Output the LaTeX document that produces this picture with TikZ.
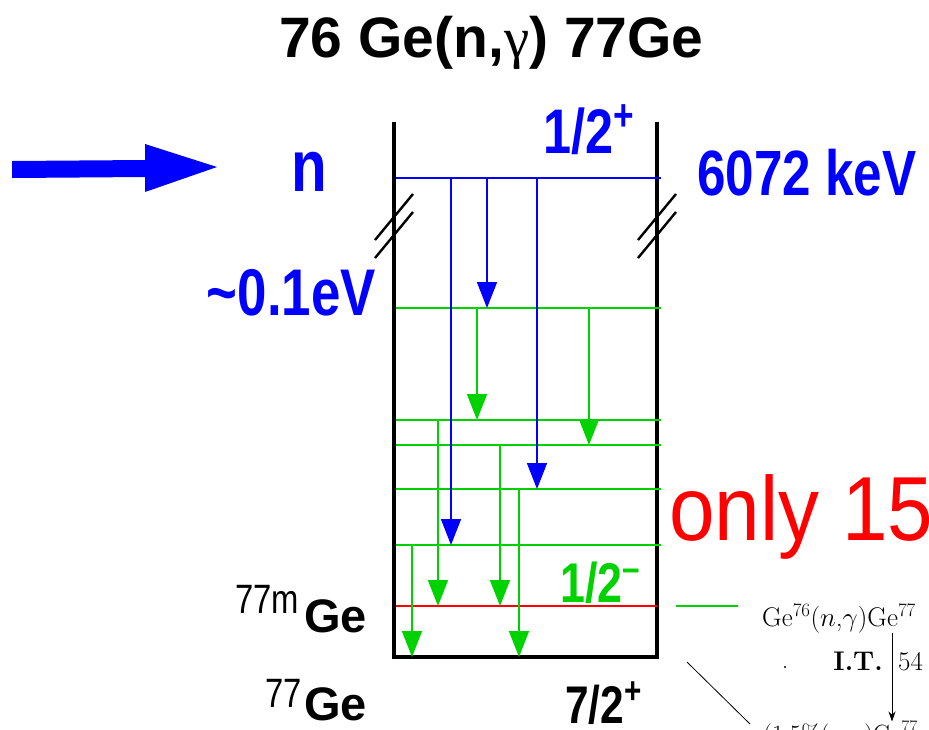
\RequirePackage{fix-cm}
\documentclass[tikz,border=0pt]{standalone}
\usepackage{xcolor}
\usepackage{fontspec}
\usepackage{tikz}
\usetikzlibrary{arrows.meta, positioning}
\newfontfamily\sansfont{Liberation Sans}
\newfontfamily\narrowfont[FakeStretch=0.8]{Liberation Sans}
\newfontfamily\midfont[FakeStretch=0.9]{Liberation Sans}
\newfontfamily\greekfont{Liberation Serif}
\definecolor{lvlgreen}{RGB}{0,210,0}
\tikzstyle{level} = [line width=2pt]
\tikzstyle{trans} = [line width=1.6pt, -{Triangle[length=26pt,width=20pt]}]
\tikzstyle{lbl} = [inner sep=0pt, anchor=base west]
\tikzstyle{lblr} = [inner sep=0pt, anchor=base east]

\begin{document}
\begin{tikzpicture}[x=1pt, y=-1pt]
    \useasboundingbox (0,0) rectangle (929,729);

    % Title
    \node[lbl, font={\sansfont\bfseries\fontsize{57}{60}\selectfont}] (title) at (279,57) {76 Ge(n,{\greekfont\mdseries γ}) 77Ge};

    % Neutron beam
    \fill[blue] (12,161) -- (145,160) -- (145,144) -- (217,167) -- (145,192) -- (145,177) -- (12,178) -- cycle;

    % Box with breaks
    \draw[line width=4pt] (394,122) -- (394,657) -- (657,657) -- (657,122);
    \foreach \x in {394,657}
        \foreach \dy in {0,18}
            \draw[line width=2.4pt] (\x-19,240+\dy) -- (\x+19,194+\dy);

    % Levels
    \coordinate (cap) at (396,178);
    \coordinate (g1) at (396,308);
    \coordinate (g2) at (396,420);
    \coordinate (g3) at (396,445);
    \coordinate (g4) at (396,489);
    \coordinate (g5) at (396,545);
    \coordinate (iso) at (396,606);
    \coordinate (gs) at (396,657);
    \draw[level, blue] (cap) -- ++(265,0);
    \foreach \lv in {g1,g2,g3,g4,g5}
        \draw[level, lvlgreen] (\lv) -- ++(265,0);
    \draw[level, red] (iso) -- ++(261,0);

    % Transitions
    \draw[trans, blue] (451,0 |- cap) -- (451,0 |- g5);
    \draw[trans, blue] (487,0 |- cap) -- (487,0 |- g1);
    \draw[trans, blue] (537,0 |- cap) -- (537,0 |- g4);
    \foreach \x/\from/\to in {477/g1/g2, 589/g1/g3, 438/g2/iso, 500/g3/iso, 519/g4/gs, 412/g5/gs}
        \draw[trans, lvlgreen] (\x,0 |- \from) -- (\x,0 |- \to);

    % Labels
    \node[lbl, text=blue, font={\narrowfont\bfseries\fontsize{63}{63}\selectfont}] (jcap) at (543,153) {1/2\textsuperscript{+}};
    \node[lbl, text=blue, font={\narrowfont\bfseries\fontsize{64}{64}\selectfont}] (ecap) at (697,195) {6072 keV};
    \node[lbl, text=blue, font={\narrowfont\bfseries\fontsize{73}{73}\selectfont}] (n) at (291,191) {n};
    \node[lblr, text=blue, font={\narrowfont\bfseries\fontsize{66}{66}\selectfont}] (eth) at (376,315) {\textasciitilde0.1eV};
    \node[lbl, text=lvlgreen, font={\narrowfont\bfseries\fontsize{56}{56}\selectfont}] (jiso) at (560,602) {1/2\textsuperscript{\textendash}};
    \node[lbl, text=red, font={\midfont\fontsize{91}{91}\selectfont}] (only) at (669,540) {only 15};
    \node[lblr, font={\sansfont\bfseries\fontsize{47}{47}\selectfont}] (gem) at (367,632) {\raisebox{19pt}{\narrowfont\mdseries\fontsize{41}{41}\selectfont 77m}\hspace{5pt}Ge};
    \node[lblr, font={\sansfont\bfseries\fontsize{47}{47}\selectfont}] (gnd) at (367,720) {\raisebox{13pt}{\narrowfont\mdseries\fontsize{41}{41}\selectfont 77}\hspace{2pt}Ge};
    \node[lbl, font={\narrowfont\bfseries\fontsize{53}{53}\selectfont}] (jgnd) at (565,723) {7/2\textsuperscript{+}};

    % Decay note
    \draw[level, lvlgreen] (676,0 |- iso) -- (738,0 |- iso);
    \node[lbl, font={\rmfamily\fontsize{27}{30}\selectfont}] (react) at (762,626) {Ge$^{76}$($n$,$\gamma$)Ge$^{77}$};
    \node[lblr, font={\rmfamily\bfseries\fontsize{27}{30}\selectfont}] (it) at (883,670) {I.T.};
    \node[lbl, font={\rmfamily\fontsize{27}{30}\selectfont}] (half) at (898,670) {54};
    \node[lbl, font={\rmfamily\fontsize{25}{30}\selectfont}] (branch) at (763,742) {(1.5\%($n$,$\gamma$)Ge$^{77}$};
    \draw[line width=0.8pt, -{Stealth[length=10pt,width=7pt]}] (892,0 |- react.south) -- (892,0 |- branch.north);
    \draw[line width=0.8pt] (687,662) -- (750,724);
    \fill (785,667) circle (1.2pt);
\end{tikzpicture}
\end{document}
